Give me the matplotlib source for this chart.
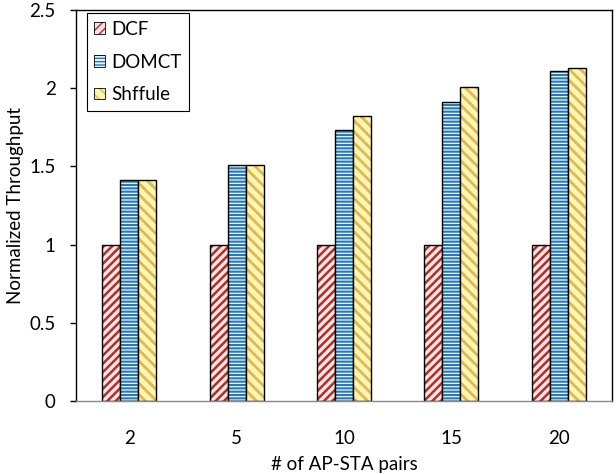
import matplotlib
matplotlib.use("Agg")
import matplotlib.pyplot as plt
import numpy as np
from matplotlib.patches import Patch
from matplotlib.legend_handler import HandlerTuple

categories = ["2", "5", "10", "15", "20"]
series_names = ["DCF", "DOMCT", "Shffule"]
dcf = [1.0, 1.0, 1.0, 1.0, 1.0]
domct = [1.41, 1.51, 1.73, 1.91, 2.11]
shffule = [1.41, 1.51, 1.82, 2.01, 2.13]
yticks = [0, 0.5, 1, 1.5, 2, 2.5]
ytick_labels = ["0", "0.5", "1", "1.5", "2", "2.5"]

plt.rcParams['font.family'] = ['Lato', 'DejaVu Sans']

styles = [
    dict(face="#FFE3E3", hc="#A8312E", hatch="////", hlw=1.8),
    dict(face="#E8F4FA", hc="#2A78B0", hatch="-----", hlw=1.5),
    dict(face="#FFF6B4", hc="#DDB853", hatch="\\\\\\", hlw=2.0),
]

fs = 13.5
fig = plt.figure(figsize=(6.16, 4.74), dpi=100)
ax = fig.add_axes([0.123, 0.154, 0.871, 0.825])

x = np.arange(len(categories))
w = 0.168
data = [dcf, domct, shffule]
handles = []
for i, (vals, st) in enumerate(zip(data, styles)):
    pos = x + (i - 1) * w
    with plt.rc_context({'hatch.linewidth': st["hlw"]}):
        ax.bar(pos, vals, w, color=st["face"], edgecolor=st["hc"], hatch=st["hatch"], linewidth=0)
        h1 = Patch(facecolor=st["face"], edgecolor=st["hc"], hatch=st["hatch"], linewidth=0)
    ax.bar(pos, vals, w, fill=False, edgecolor="black", linewidth=1.0)
    h2 = Patch(fill=False, edgecolor="black", linewidth=0.6)
    handles.append((h1, h2))

ax.set_xlim(-0.5, len(categories) - 0.5)
ax.set_ylim(0, 2.5)
ax.set_yticks(yticks)
ax.set_yticklabels(ytick_labels)
ax.set_xticks(x)
ax.set_xticklabels(categories)
ax.tick_params(axis='x', length=0, pad=21, labelsize=fs)
ax.tick_params(axis='y', direction='out', length=4.5, width=1, pad=10, labelsize=fs)
for s in ['left', 'top', 'right']:
    ax.spines[s].set_color('black')
    ax.spines[s].set_linewidth(1)
ax.spines['bottom'].set_color('#888888')
ax.spines['bottom'].set_linewidth(1)

ax.set_xlabel("# of AP-STA pairs", fontsize=fs, labelpad=6)
ax.set_ylabel("Normalized Throughput", fontsize=fs, labelpad=4)

leg = ax.legend(handles, series_names, handler_map={tuple: HandlerTuple(ndivide=1, pad=0)},
                loc='upper left', bbox_to_anchor=(0.0205, 0.992), borderaxespad=0,
                fontsize=fs, handlelength=0.55, handleheight=0.55, handletextpad=0.35,
                labelspacing=0.85, borderpad=0.4, fancybox=False, framealpha=1)
leg.get_frame().set_edgecolor('black')
leg.get_frame().set_linewidth(0.8)

fig.savefig("out.png", dpi=100)
